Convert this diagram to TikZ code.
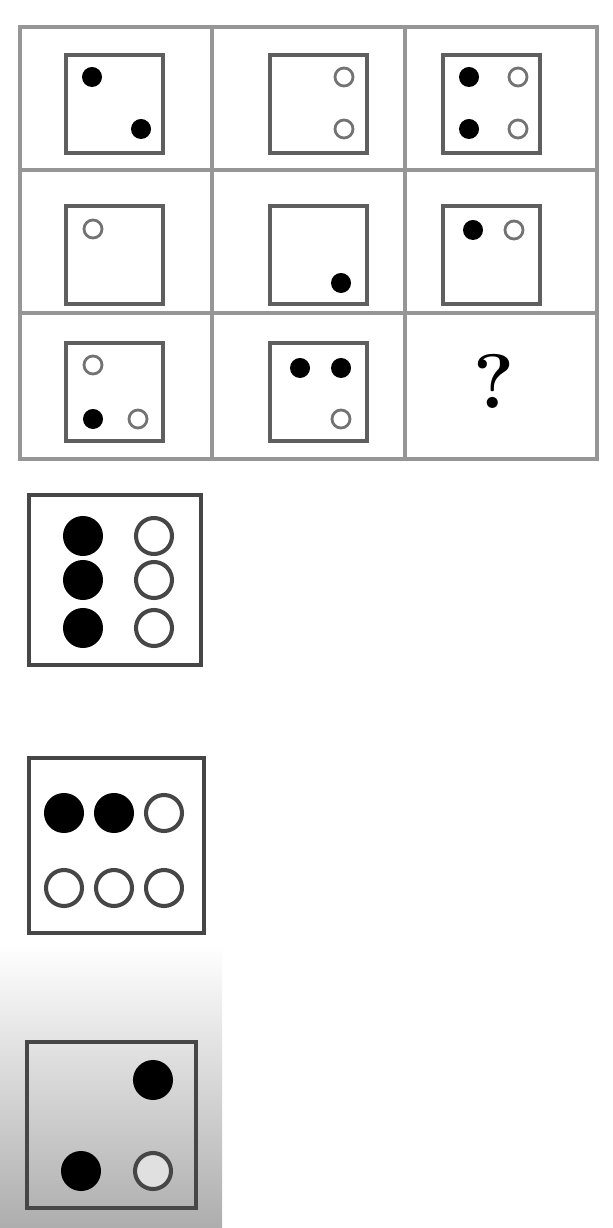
\documentclass[tikz,border=0pt]{standalone}
\usepackage{tikz}
\usepackage{xcolor}
\definecolor{gridgray}{RGB}{150,150,150}
\definecolor{boxgray}{RGB}{95,95,95}
\definecolor{ringgray}{RGB}{115,115,115}
\definecolor{optgray}{RGB}{70,70,70}

\begin{document}
\begin{tikzpicture}[x=0.01cm,y=-0.01cm]
    \tikzstyle{cellbox} = [draw=boxgray, line width=0.95pt]
    \tikzstyle{optbox} = [draw=optgray, line width=1.4pt]
    \tikzstyle{blackdot} = [circle, fill=black, inner sep=0pt, minimum size=0.2cm]
    \tikzstyle{ring} = [circle, draw=ringgray, line width=0.8pt, fill=white, inner sep=0pt, minimum size=0.18cm]
    \tikzstyle{bigdot} = [circle, fill=black, inner sep=0pt, minimum size=0.4cm]
    \tikzstyle{bigring} = [circle, draw=optgray, line width=1.15pt, inner sep=0pt, minimum size=0.36cm]

    \useasboundingbox (0,0) rectangle (613,1228);
    \fill[white] (0,0) rectangle (613,1228);
    \shade[top color=white, bottom color=black!32] (0,945) rectangle (222,1228);

    % the 3x3 grid
    \draw[gridgray, line width=1pt] (20,27) rectangle (597,459);
    \draw[gridgray, line width=1pt] (212,27) -- (212,459) (405,27) -- (405,459);
    \draw[gridgray, line width=1pt] (20,170) -- (597,170) (20,313) -- (597,313);

    % row 1
    \draw[cellbox] (66,55) rectangle (163,153);
    \node[blackdot] (a1) at (92,77) {};
    \node[blackdot] (a2) at (141,129) {};
    \draw[cellbox] (270,55) rectangle (367,153);
    \node[ring] (b1) at (344,77) {};
    \node[ring] (b2) at (344,129) {};
    \draw[cellbox] (443,55) rectangle (540,153);
    \node[blackdot] (c1) at (469,77) {};
    \node[blackdot] (c2) at (469,129) {};
    \node[ring] (c3) at (518,77) {};
    \node[ring] (c4) at (518,129) {};

    % row 2
    \draw[cellbox] (66,206) rectangle (163,304);
    \node[ring] (d1) at (93,229) {};
    \draw[cellbox] (270,206) rectangle (367,304);
    \node[blackdot] (e1) at (341,283) {};
    \draw[cellbox] (443,206) rectangle (540,304);
    \node[blackdot] (f1) at (473,230) {};
    \node[ring] (f2) at (514,230) {};

    % row 3
    \draw[cellbox] (66,343) rectangle (163,441);
    \node[ring] (g1) at (93,365) {};
    \node[blackdot] (g2) at (93,419) {};
    \node[ring] (g3) at (138,419) {};
    \draw[cellbox] (270,343) rectangle (367,441);
    \node[blackdot] (h1) at (300,368) {};
    \node[blackdot] (h2) at (341,368) {};
    \node[ring] (h3) at (341,419) {};
    \node (q) at (494,381) {\fontsize{22}{26}\selectfont\bfseries ?};

    % option 1
    \draw[optbox] (29,495) rectangle (201,665);
    \node[bigdot] (o1) at (83,536) {};
    \node[bigdot] (o2) at (83,580) {};
    \node[bigdot] (o3) at (83,628) {};
    \node[bigring] (o4) at (154,536) {};
    \node[bigring] (o5) at (154,580) {};
    \node[bigring] (o6) at (154,628) {};

    % option 2
    \draw[optbox] (29,758) rectangle (204,933);
    \node[bigdot] (p1) at (64,813) {};
    \node[bigdot] (p2) at (114,813) {};
    \node[bigring] (p3) at (164,813) {};
    \node[bigring] (p4) at (64,888) {};
    \node[bigring] (p5) at (114,888) {};
    \node[bigring] (p6) at (164,888) {};

    % option 3
    \draw[optbox] (27,1042) rectangle (196,1208);
    \node[bigdot] (r1) at (153,1080) {};
    \node[bigdot] (r2) at (81,1171) {};
    \node[bigring, fill=black!12] (r3) at (153,1171) {};
\end{tikzpicture}
\end{document}
